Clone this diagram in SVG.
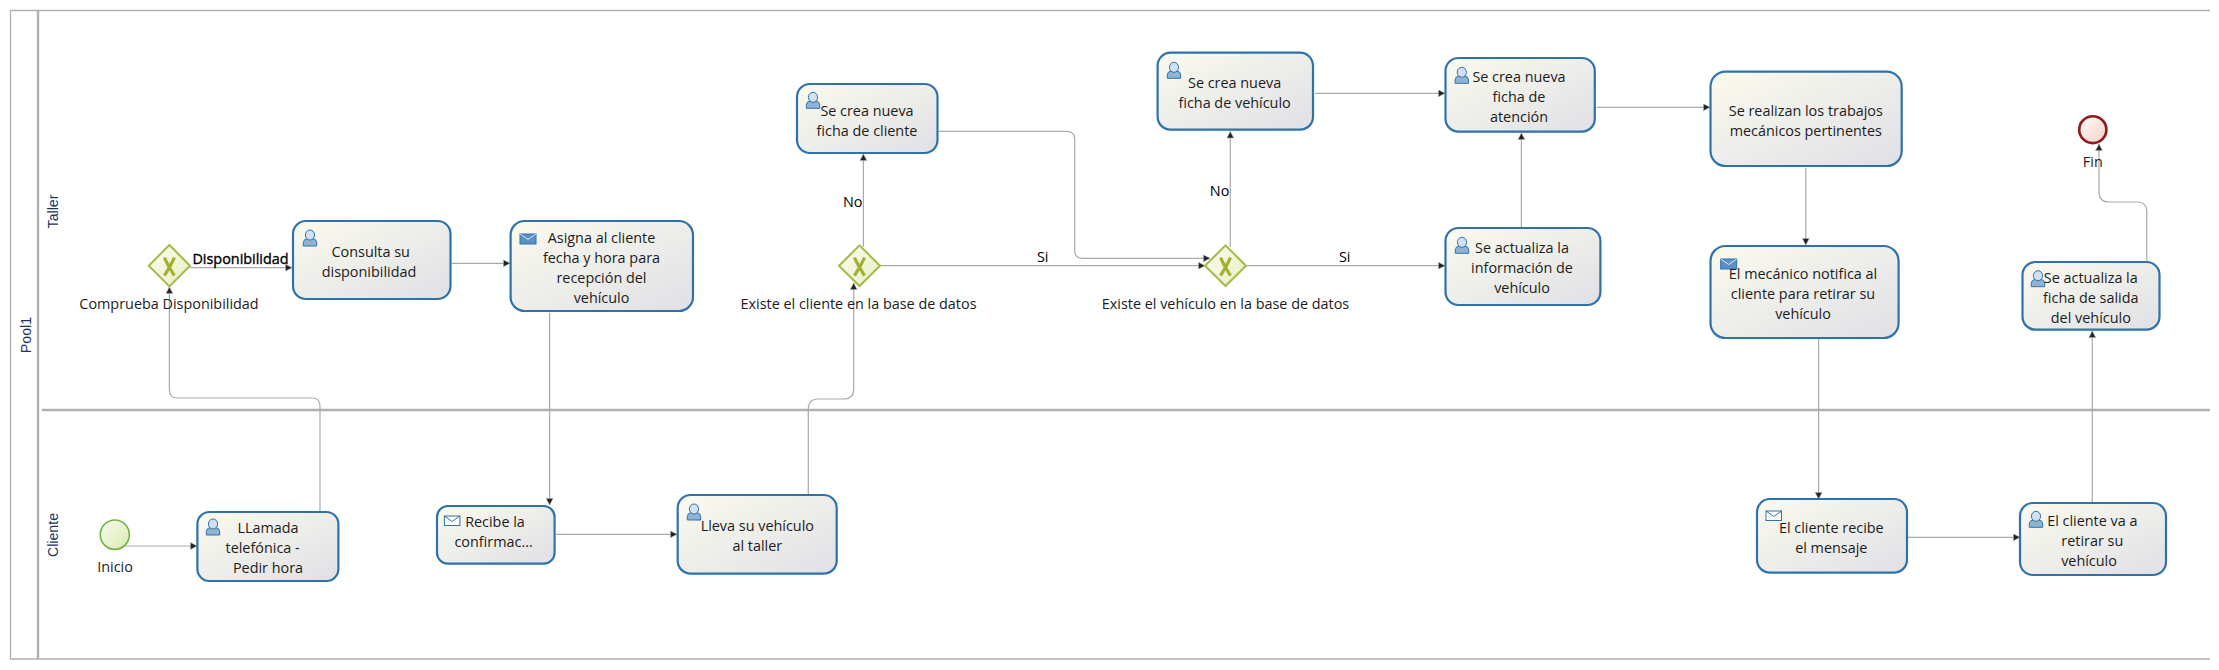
<svg xmlns="http://www.w3.org/2000/svg" xmlns:xlink="http://www.w3.org/1999/xlink" width="2219" height="670" viewBox="0 0 2219 670">
<style>
text{font-family:"Open Sans","Noto Sans","Liberation Sans",sans-serif;font-size:14.4px;fill:#1c1c1c;text-anchor:middle}
.lane{font-family:"Liberation Sans",Arial,sans-serif;font-size:14.2px;fill:#1a3560}
.el{fill:#000}
.b{stroke:#000;stroke-width:.35px}
.task{fill:url(#gt);stroke:#2f72ab;stroke-width:2.2}
.f{fill:none;stroke:#aaa;stroke-width:1.2;marker-end:url(#ah)}
.gw{fill:url(#gg);stroke:#a9b84a;stroke-width:2}
.gx{fill:none;stroke:#a0b030;stroke-width:3.2}
.fr{fill:none;stroke:#b0b0b0;stroke-width:1.3}
.th{fill:none;stroke:#b0b0b0;stroke-width:2.4}
</style>
<defs>
<linearGradient id="gt" x1="0" y1="0" x2="1" y2="1"><stop offset="0" stop-color="#fafaee"/><stop offset="1" stop-color="#e0e0e6"/></linearGradient>
<linearGradient id="gg" x1="0" y1="0" x2="1" y2="1"><stop offset="0" stop-color="#fdfdf0"/><stop offset="1" stop-color="#e6edc0"/></linearGradient>
<linearGradient id="gs" x1="0" y1="0" x2="1" y2="1"><stop offset="0" stop-color="#fafaf0"/><stop offset="1" stop-color="#d8eab0"/></linearGradient>
<linearGradient id="ge" x1="0" y1="0" x2="1" y2="1"><stop offset="0" stop-color="#fffdfa"/><stop offset="1" stop-color="#f5cfc8"/></linearGradient>
<marker id="ah" markerUnits="userSpaceOnUse" markerWidth="10" markerHeight="10" refX="7.5" refY="5" orient="auto"><path d="M1 1.6L7.5 5L1 8.4z" fill="#222" stroke="#aaa" stroke-width=".6"/></marker>
<g id="user"><path d="M-6.7 16V12.5Q-6.5 9 -2.5 8.5H2.5Q6.5 9 6.7 12.5V16z" fill="#8fb3d3" stroke="#2f72ab" stroke-width="1"/><ellipse cx="0" cy="5" rx="4.6" ry="5" fill="#d3e0f2" stroke="#2f72ab" stroke-width="1"/></g>
<g id="send"><rect x="0" y="0" width="16" height="10" fill="#5b90c5" stroke="#2f72ab"/><path d="M0 0L8 5.5L16 0" fill="none" stroke="#d8e6f4" stroke-width="1"/></g>
<g id="recv"><rect x="0" y="0" width="15.5" height="9.5" fill="#fff" stroke="#2f72ab"/><path d="M0 0L7.7 5.5L15.5 0" fill="none" stroke="#2f72ab"/></g>
<g id="gx"><path class="gx" d="M-5 -9Q-1 0 5 9M5 -9Q1 0 -5 9"/></g>
</defs>
<g id="pool">
<path class="fr" d="M2210 10.5H10.5V659H2210"/>
<path class="th" d="M38 10V659M42 410H2210"/>
<text class="lane" transform="translate(31 335) rotate(-90)">Pool1</text>
<text class="lane" transform="translate(58 211.5) rotate(-90)">Taller</text>
<text class="lane" transform="translate(58 535) rotate(-90)">Cliente</text>
</g>
<g id="connectors">
<path class="f" d="M125 546H197"/>
<path class="f" d="M320 511V406Q320 398 312 398H177.4Q169.4 398 169.4 390V287"/>
<path class="f" d="M190 267.7H292"/>
<path class="f" d="M452 263.3H510"/>
<path class="f" d="M549.6 313V505"/>
<path class="f" d="M556 534.3H677"/>
<path class="f" d="M808.3 494V409Q808.3 399 818.3 399H843.7Q853.7 399 853.7 389V283"/>
<path class="f" d="M863.4 247V154"/>
<path class="f" d="M880 265.7H1205"/>
<path class="f" d="M939 131.3H1066.7Q1074.7 131.3 1074.7 139.3V250.3Q1074.7 258.3 1082.7 258.3H1210"/>
<path class="f" d="M1230.3 247V131.5"/>
<path class="f" d="M1246 265.7H1445"/>
<path class="f" d="M1315 93.3H1445"/>
<path class="f" d="M1521.4 227V133"/>
<path class="f" d="M1597 107.3H1710"/>
<path class="f" d="M1805.8 168V245"/>
<path class="f" d="M1818.6 339V499"/>
<path class="f" d="M1908 537.3H2020"/>
<path class="f" d="M2092.3 502V331"/>
<path class="f" d="M2146.8 261V212Q2146.8 202 2136.8 202H2109Q2099 202 2099 192V144"/>
<text class="el b" x="240.5" y="264">Disponibilidad</text>
<text class="el" x="852.7" y="206.7">No</text>
<text class="el" x="1042.7" y="261.7">Si</text>
<text class="el" x="1219.6" y="196">No</text>
<text class="el" x="1344.7" y="261.7">Si</text>
</g>
<g id="inicio"><ellipse cx="114.8" cy="534.7" rx="14.5" ry="14.7" fill="url(#gs)" stroke="#6fb33f" stroke-width="1.6"/><text x="115" y="572">Inicio</text></g>
<g id="llamada"><rect class="task" x="197.4" y="512" width="141" height="69" rx="12"/><use xlink:href="#user" x="213" y="519"/><text x="268" y="533">LLamada</text><text x="262.6" y="553">telefónica -</text><text x="268" y="573">Pedir hora</text></g>
<g id="gw1"><path class="gw" d="M169.4 245L190 265.7L169.4 286.4L148.8 265.7z"/><use xlink:href="#gx" x="169.4" y="266.7"/><text x="169" y="309">Comprueba Disponibilidad</text></g>
<g id="consulta"><rect class="task" x="293" y="221" width="157.5" height="78" rx="13"/><use xlink:href="#user" x="310" y="230"/><text x="370.7" y="257.3">Consulta su</text><text x="369" y="277.3">disponibilidad</text></g>
<g id="asigna"><rect class="task" x="510.6" y="221" width="182.4" height="90" rx="14"/><use xlink:href="#send" x="520" y="234"/><text x="601.5" y="243">Asigna al cliente</text><text x="601.5" y="263">fecha y hora para</text><text x="601.5" y="283">recepción del</text><text x="601.5" y="303">vehículo</text></g>
<g id="recibe"><rect class="task" x="437" y="506" width="117.6" height="57.7" rx="11"/><use xlink:href="#recv" x="444.4" y="516"/><text x="495" y="527">Recibe la</text><text x="493.6" y="547">confirmac...</text></g>
<g id="lleva"><rect class="task" x="677.7" y="495" width="159" height="78.7" rx="13"/><use xlink:href="#user" x="694" y="504"/><text x="757.3" y="531">Lleva su vehículo</text><text x="757.3" y="551">al taller</text></g>
<g id="gw2"><path class="gw" d="M859.5 245.4L880 265.7L859.5 286L839 265.7z"/><use xlink:href="#gx" x="859.5" y="266.7"/><text x="858.5" y="309">Existe el cliente en la base de datos</text></g>
<g id="fichacliente"><rect class="task" x="797" y="84" width="140.5" height="69" rx="13"/><use xlink:href="#user" x="813" y="92.3"/><text x="867" y="115.7">Se crea nueva</text><text x="867" y="135.7">ficha de cliente</text></g>
<g id="gw3"><path class="gw" d="M1225.5 245.4L1246 265.7L1225.5 286L1205 265.7z"/><use xlink:href="#gx" x="1225.5" y="266.7"/><text x="1225.5" y="309">Existe el vehículo en la base de datos</text></g>
<g id="fichavehiculo"><rect class="task" x="1157.6" y="52.7" width="155.4" height="77" rx="13"/><use xlink:href="#user" x="1174" y="62.3"/><text x="1234.6" y="88.3">Se crea nueva</text><text x="1234.6" y="108.3">ficha de vehículo</text></g>
<g id="fichaatencion"><rect class="task" x="1445.5" y="58" width="149.3" height="73.7" rx="13"/><use xlink:href="#user" x="1461.8" y="67.3"/><text x="1519" y="82.3">Se crea nueva</text><text x="1519" y="102.3">ficha de</text><text x="1519" y="122.3">atención</text></g>
<g id="actualiza"><rect class="task" x="1445.5" y="228" width="154.9" height="77" rx="13"/><use xlink:href="#user" x="1462" y="237.3"/><text x="1522" y="253">Se actualiza la</text><text x="1522" y="273">información de</text><text x="1522" y="293">vehículo</text></g>
<g id="realizan"><rect class="task" x="1710.5" y="71.7" width="191.2" height="94.3" rx="15"/><text x="1805.8" y="116">Se realizan los trabajos</text><text x="1805.8" y="136">mecánicos pertinentes</text></g>
<g id="mecanico"><rect class="task" x="1710.5" y="246" width="188.1" height="92" rx="15"/><use xlink:href="#send" x="1720.7" y="259"/><text x="1803" y="279.3">El mecánico notifica al</text><text x="1803" y="299.3">cliente para retirar su</text><text x="1803" y="319.3">vehículo</text></g>
<g id="clienterecibe"><rect class="task" x="1757" y="499" width="150" height="73.7" rx="13"/><use xlink:href="#recv" x="1766" y="511"/><text x="1831.3" y="532.7">El cliente recibe</text><text x="1831.3" y="552.7">el mensaje</text></g>
<g id="clienteva"><rect class="task" x="2020" y="503" width="146" height="72" rx="13"/><use xlink:href="#user" x="2036" y="511.3"/><text x="2092.3" y="526">El cliente va a</text><text x="2092.3" y="546">retirar su</text><text x="2089" y="566">vehículo</text></g>
<g id="actualizaficha"><rect class="task" x="2022.5" y="262" width="137" height="67.7" rx="13"/><use xlink:href="#user" x="2038" y="270.7"/><text x="2090.8" y="283.3">Se actualiza la</text><text x="2090.8" y="303.3">ficha de salida</text><text x="2090.8" y="323.3">del vehículo</text></g>
<g id="fin"><ellipse cx="2092.8" cy="129.7" rx="13.6" ry="13.4" fill="url(#ge)" stroke="#8e1a1e" stroke-width="2.6"/><text x="2092.8" y="166.7">Fin</text></g>
</svg>
